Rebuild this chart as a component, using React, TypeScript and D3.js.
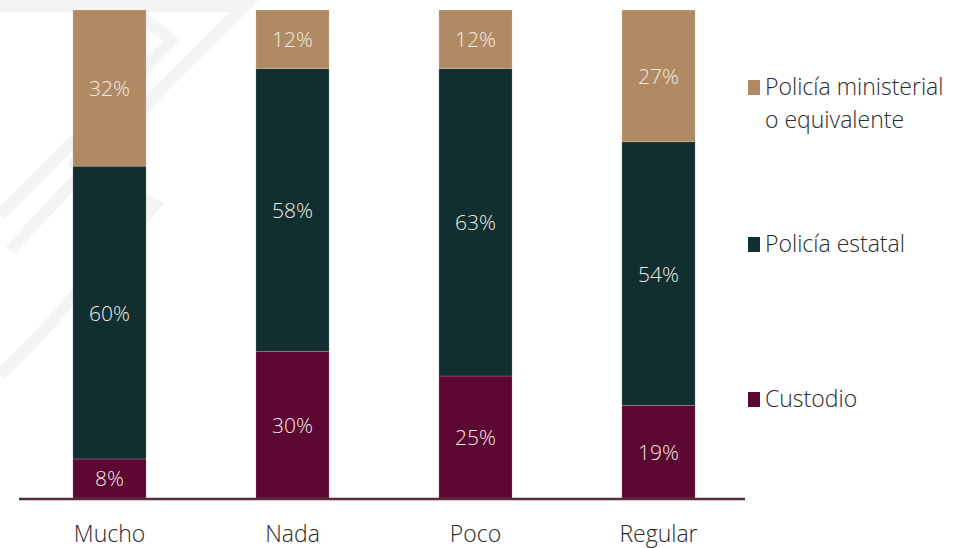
import React, { useEffect, useRef } from "react";
import * as d3 from "d3";

const categories = ["Mucho", "Nada", "Poco", "Regular"];
const seriesNames = ["Custodio", "Policía estatal", "Policía ministerial"];
const custodio = [8, 30, 25, 19];
const estatal = [60, 58, 63, 54];
const ministerial = [32, 12, 12, 27];
const colors = ["#5c0632", "#112e30", "#b08a62"];
const legendLines = [["Policía ministerial", "o equivalente"], ["Policía estatal"], ["Custodio"]];
const legendColors = ["#b08a62", "#112e30", "#5c0632"];

const FONT = "'Open Sans', sans-serif";

export default function App() {
  const ref = useRef<SVGSVGElement>(null);

  useEffect(() => {
    const svg = d3.select(ref.current);
    svg.selectAll("*").remove();
    const top = 10;
    const bottom = 498;

    // faint watermark in the background
    const wm = svg.append("g").attr("fill", "none").attr("stroke", "#f4f4f4").attr("stroke-width", 12);
    wm.append("path").attr("d", "M0,6 L245,6 L170,80 L10,250");
    wm.append("path").attr("d", "M105,-10 L172,40 L60,155 L0,215");
    wm.append("path").attr("d", "M70,160 L155,205 L40,335 L0,375");

    const table = categories.map((c, i) => ({
      cat: c,
      Custodio: custodio[i],
      "Policía estatal": estatal[i],
      "Policía ministerial": ministerial[i],
    }));

    const stack = d3.stack<any>().keys(seriesNames)(table);

    const x = d3.scaleBand().domain(categories).range([18, 750]).paddingInner(0.6).paddingOuter(0.3);
    const y = d3.scaleLinear().domain([0, 100]).range([bottom, top]);

    const layers = svg
      .append("g")
      .selectAll("g")
      .data(stack)
      .join("g")
      .attr("fill", (_d: any, i: number) => colors[i]);

    layers
      .selectAll("rect")
      .data((d: any) => d)
      .join("rect")
      .attr("x", (d: any) => x(d.data.cat)!)
      .attr("width", x.bandwidth())
      .attr("y", (d: any) => y(d[1]))
      .attr("height", (d: any) => y(d[0]) - y(d[1]))
      .attr("stroke", "rgba(255,255,255,0.3)")
      .attr("stroke-width", 0.6);

    layers
      .selectAll("text")
      .data((d: any) => d)
      .join("text")
      .attr("x", (d: any) => x(d.data.cat)! + x.bandwidth() / 2)
      .attr("y", (d: any) => (y(d[0]) + y(d[1])) / 2 + 8)
      .attr("text-anchor", "middle")
      .attr("fill", "#f2ece6")
      .attr("font-family", FONT)
      .attr("font-weight", 300)
      .attr("font-size", 21)
      .text((d: any) => `${d[1] - d[0]}%`);

    svg
      .append("line")
      .attr("x1", 19)
      .attr("x2", 745)
      .attr("y1", bottom + 1)
      .attr("y2", bottom + 1)
      .attr("stroke", "#5a2a3a")
      .attr("stroke-width", 2.5);

    svg
      .append("g")
      .selectAll("text")
      .data(categories)
      .join("text")
      .attr("x", (d) => x(d)! + x.bandwidth() / 2)
      .attr("y", 542)
      .attr("text-anchor", "middle")
      .attr("fill", "#2a2a2a")
      .attr("font-family", FONT)
      .attr("font-weight", 300)
      .attr("font-size", 23)
      .text((d) => d);

    const legendY = [95, 252, 407];
    const lg = svg
      .append("g")
      .selectAll("g")
      .data(legendLines)
      .join("g")
      .attr("transform", (_d, i) => `translate(748,${legendY[i]})`);
    lg.append("rect").attr("x", 0).attr("y", -15).attr("width", 12).attr("height", 15).attr("fill", (_d, i) => legendColors[i]);
    lg.each(function (lines) {
      const t = d3
        .select(this)
        .append("text")
        .attr("fill", "#2a2a2a")
        .attr("font-family", FONT)
        .attr("font-weight", 300)
        .attr("font-size", 23);
      lines.forEach((l, j) => {
        t.append("tspan").attr("x", 17).attr("y", j * 33).text(l);
      });
    });
  }, []);

  return (
    <svg
      ref={ref}
      width={972}
      height={548}
      style={{ position: "absolute", left: 0, top: 0, background: "#fff" }}
    />
  );
}
